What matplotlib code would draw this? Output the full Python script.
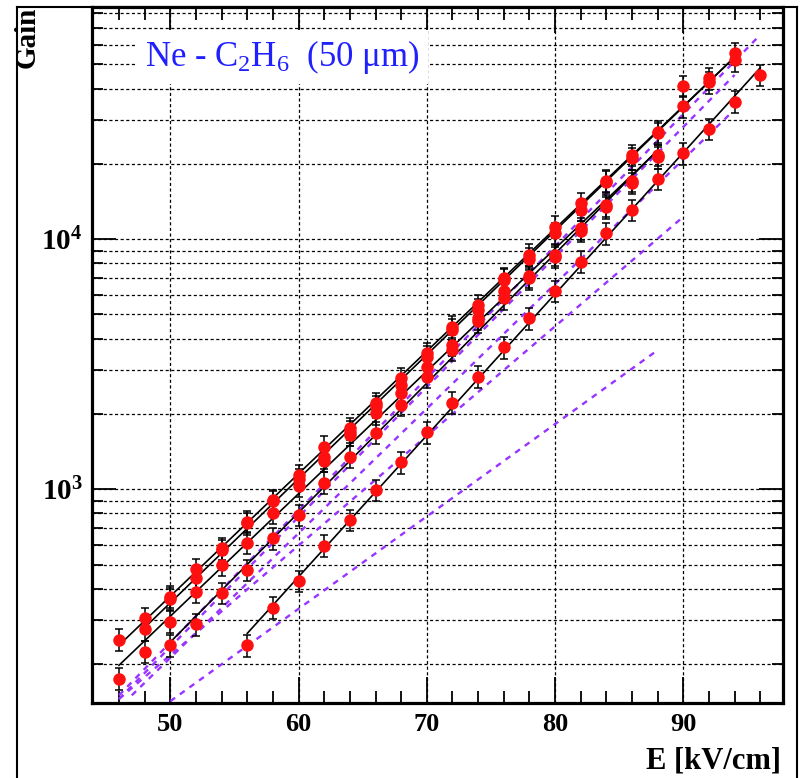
import numpy as np
import matplotlib
matplotlib.use("Agg")
import matplotlib.pyplot as plt
from matplotlib.ticker import MultipleLocator, LogLocator, NullFormatter, FixedLocator, FixedFormatter
from matplotlib.lines import Line2D

plt.rcParams['font.family'] = ['Liberation Serif', 'DejaVu Serif']
plt.rcParams['mathtext.fontset'] = 'custom'
plt.rcParams['mathtext.rm'] = 'Liberation Serif'
plt.rcParams['mathtext.it'] = 'Liberation Serif:italic'
plt.rcParams['mathtext.bf'] = 'Liberation Serif:bold'

# measured gain curves (E in kV/cm)
e1 = [46, 48, 50, 52, 54, 56, 58, 60, 62, 64, 66, 68, 70, 72, 74, 76, 78, 80, 82, 84, 86, 88, 90, 92, 94]
g1 = [250, 305, 372, 479, 581, 731, 906, 1141, 1480, 1753, 2207, 2780, 3495, 4475, 5462, 6980, 8660,
      11240, 13900, 17150, 21730, 26950, 34000, 44100, 55500]
e2 = [46, 48, 50, 52, 54, 56, 58, 60, 62, 64, 66, 68, 70, 72, 74, 76, 78, 80, 82, 84, 86, 88]
g2 = [175, 224, 295, 389, 498, 611, 806, 1031, 1301, 1648, 2013, 2420, 3093, 3780, 4830, 6180, 7100,
      8660, 11060, 13650, 17150, 21730]
e3 = [48, 50, 52, 54, 56, 58, 60, 62, 64, 66, 68, 70, 72, 74, 76, 78, 80, 82, 84, 86, 88, 90, 92, 94]
g3 = [276, 365, 441, 570, 742, 895, 1100, 1342, 1700, 2150, 2614, 3393, 4344, 5220, 6900, 8370, 10570,
      13100, 17000, 21080, 26500, 41000, 42500, 52000]
e4 = [50, 52, 54, 56, 58, 60, 62, 64, 66, 68, 70, 72, 74, 76, 78, 80, 82, 84, 86, 88]
g4 = [238, 288, 385, 476, 637, 789, 1063, 1350, 1685, 2175, 2822, 3606, 4688, 5810, 6980, 8500, 10800,
      13400, 16800, 21300]
e5 = [56, 58, 60, 62, 64, 66, 68, 70, 72, 74, 76, 78, 80, 82, 84, 86, 88, 90, 92, 94, 96]
g5 = [238, 336, 430, 595, 754, 994, 1282, 1691, 2219, 2820, 3700, 4830, 6210, 8120, 10570, 13100,
      17430, 22100, 27600, 35500, 45400]
series = [(e1, g1), (e2, g2), (e3, g3), (e4, g4), (e5, g5)]
rel_err = 0.10

# simulation curves (dashed), start / end
sim_e = [[46, 96], [46, 94], [47, 93.7], [46, 90], [50, 87.8]]
sim_g = [[150, 65700], [145, 45400], [150, 31900], [145, 12300], [142, 3540]]

fig = plt.figure(figsize=(8, 7.78), dpi=100)
ax = fig.add_axes([0.1154, 0.096, 0.863, 0.8944])
ax.set_yscale('log')
ax.set_xlim(43.92, 97.75)
ax.set_ylim(139.3, 84500)

gs = (0, (2.5, 2))
ax.grid(True, which='major', axis='x', color='black', lw=0.9, ls=gs)
ax.grid(True, which='both', axis='y', color='black', lw=0.9, ls=gs)
ax.set_axisbelow(True)

for es, gg in zip(sim_e, sim_g):
    ax.plot(es, gg, color='#9933ff', lw=1.7, ls=(0, (2.5, 2.5)), zorder=2)

for e, g in series:
    e = np.array(e, dtype=float)
    g = np.array(g, dtype=float)
    p = np.polyfit(e, np.log10(g), 1)
    xx = np.array([e[0], e[-1]])
    ax.plot(xx, 10 ** np.polyval(p, xx), color='black', lw=1.2, zorder=3)
    ax.errorbar(e, g, yerr=rel_err * g, fmt='none', ecolor='black', elinewidth=1.1,
                capsize=3, capthick=1.1, zorder=4)
    ax.plot(e, g, 'o', color='#ff1010', ms=9, mec='none', zorder=5)

ax.xaxis.set_major_locator(MultipleLocator(10))
ax.xaxis.set_minor_locator(MultipleLocator(2))
ax.yaxis.set_major_locator(FixedLocator([1e3, 1e4]))
ax.yaxis.set_major_formatter(FixedFormatter([r'$\mathbf{10^{3}}$', r'$\mathbf{10^{4}}$']))
ax.yaxis.set_minor_locator(LogLocator(base=10, subs=np.arange(2, 10)))
ax.yaxis.set_minor_formatter(NullFormatter())

ax.tick_params(axis='x', which='major', direction='in', length=19, width=1.3, top=True, pad=7, labelsize=19)
ax.tick_params(axis='x', which='minor', direction='in', length=9, width=1.3, top=True)
ax.tick_params(axis='y', which='major', direction='in', length=17, width=1.3, right=True, pad=7, labelsize=21)
ax.tick_params(axis='y', which='minor', direction='in', length=8, width=1.3, right=True)
for lab in ax.get_xticklabels():
    lab.set_fontweight('bold')
for sp in ax.spines.values():
    sp.set_linewidth(2.3)

ax.text(0.076, 0.929, 'Ne - C$_2$H$_6$  (50 μm)', transform=ax.transAxes, color='#2020ff',
        fontsize=25, va='center', ha='left', zorder=6,
        bbox=dict(facecolor='white', edgecolor='none', pad=6))

fig.text(0.034, 0.991, 'Gain', rotation=90, ha='center', va='top', fontsize=21, fontweight='bold')
fig.text(0.976, 0.022, 'E [kV/cm]', ha='right', va='center', fontsize=22, fontweight='bold')

# canvas border
for xs, ys in [([0.021, 0.021], [0, 0.991]), ([0.996, 0.996], [0, 0.991]), ([0.021, 0.996], [0.991, 0.991])]:
    fig.add_artist(Line2D(xs, ys, color='black', lw=1.5))

fig.savefig('out.png', dpi=100)
